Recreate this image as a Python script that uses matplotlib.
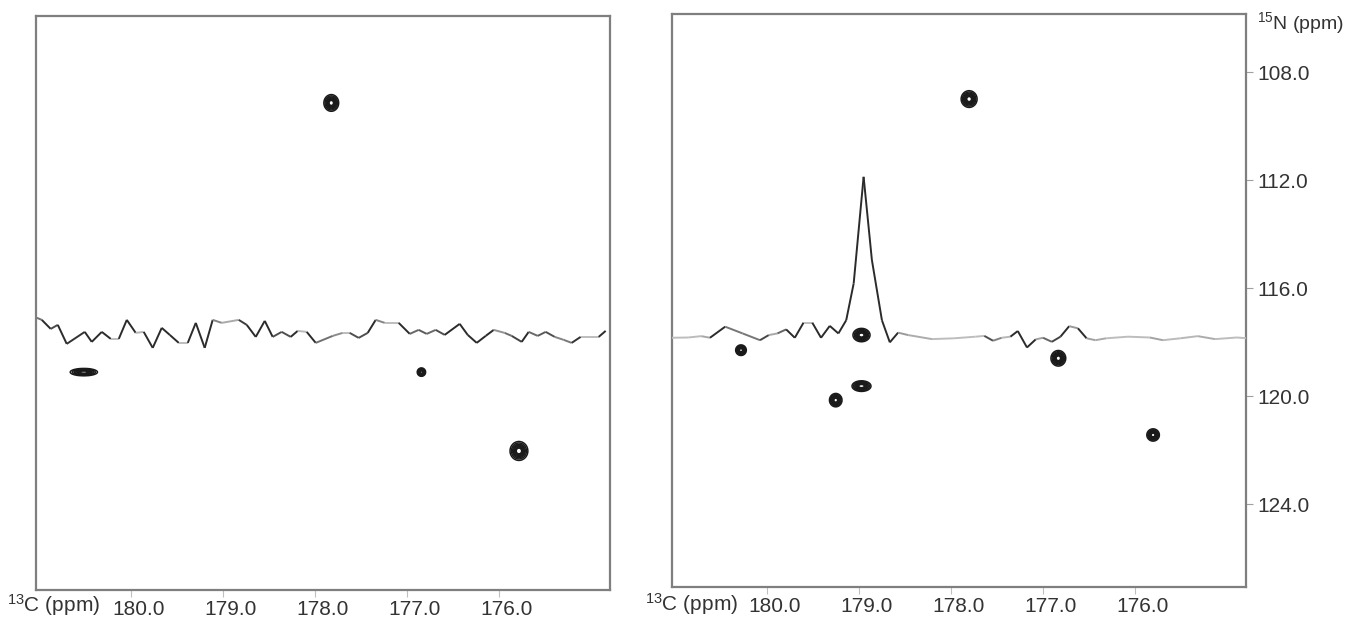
import numpy as np
import matplotlib as mpl
mpl.rcParams.update({'font.size': 15, 'font.family': ['Liberation Sans', 'DejaVu Sans'],
                     'mathtext.fontset': 'custom', 'mathtext.rm': 'Liberation Sans',
                     'mathtext.default': 'regular'})
from matplotlib import pyplot as plt
from matplotlib import transforms
from matplotlib.collections import LineCollection

# 13C ticks and 15N ticks (ppm)
C13_TICKS = [180.0, 179.0, 178.0, 177.0, 176.0]
N15_TICKS = [108.0, 112.0, 116.0, 120.0, 124.0]

# left spectrum: 1D trace (13C ppm, drawn in 15N ppm units)
LEFT_TRACE_X = [181.02, 180.967, 180.870, 180.793, 180.696, 180.500, 180.424, 180.315, 180.217,
                180.130, 180.043, 179.946, 179.859, 179.761, 179.663, 179.576, 179.478, 179.380,
                179.293, 179.196, 179.109, 179.011, 178.826, 178.739, 178.641, 178.543, 178.457,
                178.359, 178.261, 178.185, 178.087, 177.989, 177.804, 177.696, 177.620, 177.522,
                177.424, 177.337, 177.239, 177.087, 176.967, 176.870, 176.783, 176.685, 176.587,
                176.424, 176.337, 176.239, 176.141, 176.054, 175.935, 175.859, 175.750, 175.674,
                175.576, 175.489, 175.391, 175.293, 175.207, 175.109, 175.011, 174.913, 174.837]
LEFT_TRACE_Y = [117.11, 117.185, 117.519, 117.370, 118.074, 117.630, 118.000, 117.630, 117.889,
                117.889, 117.185, 117.667, 117.630, 118.222, 117.481, 117.741, 118.037, 118.037,
                117.296, 118.222, 117.185, 117.296, 117.185, 117.370, 117.815, 117.222, 117.815,
                117.630, 117.815, 117.593, 117.630, 118.037, 117.778, 117.667, 117.667, 117.852,
                117.667, 117.185, 117.296, 117.296, 117.704, 117.556, 117.704, 117.556, 117.741,
                117.333, 117.741, 118.037, 117.778, 117.556, 117.667, 117.778, 118.000, 117.630,
                117.778, 117.630, 117.815, 117.926, 118.037, 117.815, 117.815, 117.815, 117.593]

# right spectrum: 1D trace
RIGHT_TRACE_X = [181.043, 180.854, 180.712, 180.617, 180.452, 180.262, 180.073, 179.978, 179.884,
                 179.789, 179.695, 179.600, 179.505, 179.410, 179.315, 179.221, 179.136, 179.055,
                 178.947, 178.857, 178.748, 178.662, 178.572, 178.463, 178.203, 177.966, 177.729,
                 177.635, 177.540, 177.446, 177.351, 177.271, 177.171, 177.076, 176.996, 176.901,
                 176.807, 176.712, 176.617, 176.523, 176.427, 176.310, 176.073, 175.836, 175.693,
                 175.504, 175.315, 175.126, 174.889, 174.772]
RIGHT_TRACE_Y = [117.84, 117.83, 117.78, 117.84, 117.43, 117.68, 117.93, 117.74, 117.68,
                 117.53, 117.84, 117.28, 117.28, 117.84, 117.40, 117.68, 117.19, 115.83,
                 111.88, 114.96, 117.19, 118.01, 117.65, 117.74, 117.89, 117.86, 117.80,
                 117.77, 117.95, 117.84, 117.80, 117.59, 118.20, 117.90, 117.84, 117.99,
                 117.80, 117.41, 117.49, 117.86, 117.93, 117.86, 117.80, 117.83, 117.93,
                 117.86, 117.78, 117.89, 117.83, 117.86]

# cross peaks: centre (13C, 15N) and linewidth (ppm)
LEFT_PEAK_C13 = [177.82, 180.51, 176.84, 175.78]
LEFT_PEAK_N15 = [109.15, 119.12, 119.12, 122.04]
LEFT_PEAK_WC = [0.039, 0.072, 0.022, 0.047]
LEFT_PEAK_WN = [0.15, 0.066, 0.075, 0.17]

RIGHT_PEAK_C13 = [177.80, 180.28, 178.97, 178.97, 179.25, 176.83, 175.80]
RIGHT_PEAK_N15 = [109.00, 118.30, 117.74, 119.63, 120.15, 118.60, 121.44]
RIGHT_PEAK_WC = [0.042, 0.028, 0.045, 0.050, 0.033, 0.039, 0.033]
RIGHT_PEAK_WN = [0.15, 0.095, 0.12, 0.095, 0.12, 0.14, 0.11]

SPINE = '#7f7f7f'
TEXT = '#333333'


def draw_trace(ax, x, y):
    x = np.asarray(x)
    y = np.asarray(y)
    pts = np.column_stack([x, y]).reshape(-1, 1, 2)
    segs = np.concatenate([pts[:-1], pts[1:]], axis=1)
    # steep segments dark, flat ones light grey (pixel slope)
    steep = np.abs(np.diff(y) * 27) / (np.abs(np.diff(x) * 92) + 1e-9)
    t = np.clip((steep - 0.1) / 0.6, 0, 1)
    light = np.array([0.74, 0.74, 0.74])
    dark = np.array([0.17, 0.17, 0.17])
    cols = light[None, :] * (1 - t[:, None]) + dark[None, :] * t[:, None]
    ax.add_collection(LineCollection(segs, colors=cols, linewidths=1.4, zorder=3))


def draw_peaks(ax, c13, n15, wc, wn):
    gx = np.linspace(174.6, 181.2, 900)
    gy = np.linspace(105.5, 127.5, 900)
    X, Y = np.meshgrid(gx, gy)
    Z = np.zeros_like(X)
    for c, n, sc, sn in zip(c13, n15, wc, wn):
        Z += np.exp(-0.5 * ((X - c) / sc) ** 2 - 0.5 * ((Y - n) / sn) ** 2)
    ax.contour(X, Y, Z, levels=[0.12, 0.22, 0.34, 0.46, 0.58, 0.7, 0.82],
               colors='#1a1a1a', linewidths=1.1, zorder=4)


def style_axes(ax, ylim):
    ax.set_xlim(181.03, 174.79)
    ax.set_ylim(*ylim)
    for s in ax.spines.values():
        s.set_color(SPINE)
        s.set_linewidth(1.6)
    ax.set_xticks(C13_TICKS)
    ax.set_xticklabels([f"{v:.1f}" for v in C13_TICKS])
    ax.tick_params(axis='x', direction='out', length=5, width=0.8, color='#c0c0c0',
                   labelcolor=TEXT, labelsize=15, pad=2)
    # labels sit a little right of their ticks in the original
    shift = transforms.ScaledTranslation(8 / 100, 0, ax.figure.dpi_scale_trans)
    for lab in ax.get_xticklabels():
        lab.set_transform(lab.get_transform() + shift)


fig = plt.figure(figsize=(13.53, 6.18), dpi=100)

ax1 = fig.add_axes([36 / 1353, 1 - 590 / 618, 574 / 1353, 574 / 618])
style_axes(ax1, (127.19, 105.93))
ax1.set_yticks([])
draw_trace(ax1, LEFT_TRACE_X, LEFT_TRACE_Y)
draw_peaks(ax1, LEFT_PEAK_C13, LEFT_PEAK_N15, LEFT_PEAK_WC, LEFT_PEAK_WN)

ax2 = fig.add_axes([672 / 1353, 1 - 587 / 618, 574 / 1353, 573 / 618])
style_axes(ax2, (127.07, 105.85))
ax2.set_yticks(N15_TICKS)
ax2.set_yticklabels([f"{v:.1f}" for v in N15_TICKS])
ax2.yaxis.tick_right()
ax2.tick_params(axis='y', direction='out', length=5, width=0.8, color='#a0a0a0',
                labelcolor=TEXT, labelsize=15, pad=3)
draw_trace(ax2, RIGHT_TRACE_X, RIGHT_TRACE_Y)
draw_peaks(ax2, RIGHT_PEAK_C13, RIGHT_PEAK_N15, RIGHT_PEAK_WC, RIGHT_PEAK_WN)

fig.text(7 / 1353, 1 - 612 / 618, r"$^{13}$C (ppm)", color=TEXT, fontsize=15, va='baseline')
fig.text(645 / 1353, 1 - 611 / 618, r"$^{13}$C (ppm)", color=TEXT, fontsize=15, va='baseline')
fig.text(1257 / 1353, 1 - 29 / 618, r"$^{15}$N (ppm)", color=TEXT, fontsize=14, va='baseline')

fig.savefig('out.png', dpi=100)
